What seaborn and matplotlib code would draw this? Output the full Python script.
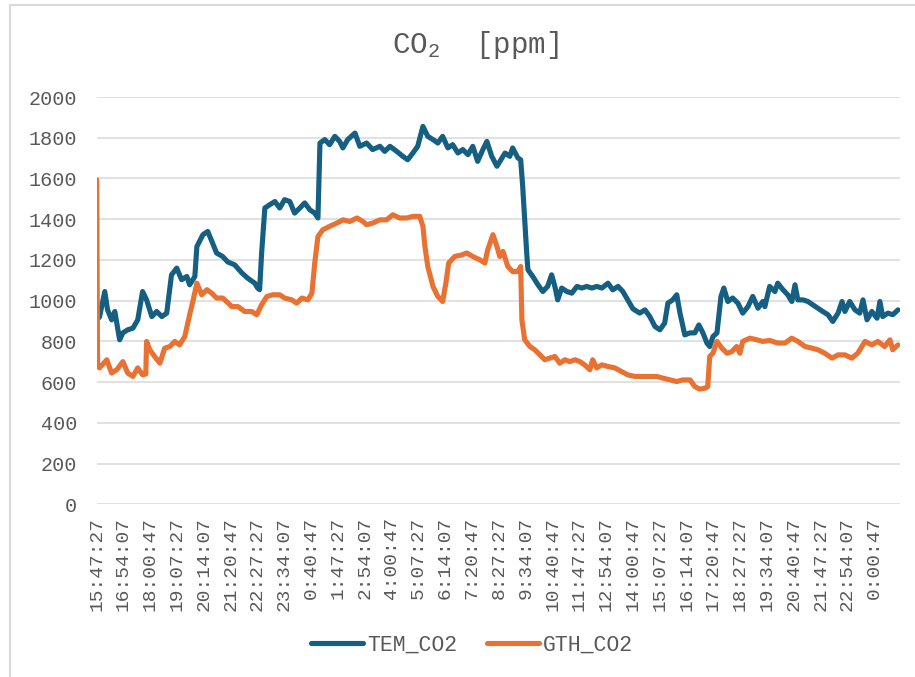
import pandas as pd
import seaborn as sns
import matplotlib.pyplot as plt
from matplotlib.lines import Line2D

# Time labels shown on the category axis (one every 4000 s)
time_labels = ['15:47:27', '16:54:07', '18:00:47', '19:07:27', '20:14:07', '21:20:47',
               '22:27:27', '23:34:07', '0:40:47', '1:47:27', '2:54:07', '4:00:47',
               '5:07:27', '6:14:07', '7:20:47', '8:27:27', '9:34:07', '10:40:47',
               '11:47:27', '12:54:07', '14:00:47', '15:07:27', '16:14:07', '17:20:47',
               '18:27:27', '19:34:07', '20:40:47', '21:47:27', '22:54:07', '0:00:47']

# TEM_CO2 readings (elapsed minutes since 15:47:27, ppm)
tem_min = [0, 7, 20, 27, 37, 45, 57, 65, 77, 90, 102, 114, 124, 137, 149, 162, 174, 186, 199, 211,
           224, 231, 244, 249, 264, 276, 288, 298, 313, 326, 343, 361, 375, 393, 400, 405, 410, 418, 430, 443,
           455, 467, 480, 492, 505, 517, 530, 542, 550, 555, 567, 579, 592, 604, 612, 624, 642, 654, 671, 686,
           704, 716, 729, 746, 761, 773, 786, 798, 811, 823, 836, 848, 860, 873, 885, 898, 910, 923, 935, 947,
           960, 970, 982, 995, 1015, 1027, 1034, 1047, 1054, 1059, 1064, 1069, 1072, 1084, 1097, 1109, 1121, 1131, 1139, 1146,
           1156, 1169, 1181, 1194, 1206, 1218, 1231, 1243, 1256, 1271, 1283, 1296, 1308, 1320, 1333, 1350, 1363, 1375, 1388, 1400,
           1412, 1420, 1432, 1442, 1450, 1462, 1475, 1487, 1497, 1507, 1517, 1524, 1532, 1542, 1552, 1559, 1569, 1581, 1594, 1606,
           1619, 1631, 1644, 1656, 1661, 1673, 1686, 1693, 1706, 1718, 1728, 1736, 1743, 1756, 1768, 1780, 1793, 1805, 1818, 1830,
           1843, 1853, 1860, 1872, 1885, 1897, 1905, 1915, 1927, 1940, 1947, 1954, 1967, 1979, 1992]
tem_ppm = [906, 920, 1045, 955, 906, 947, 808, 842, 857, 865, 906, 1045, 1004, 922, 947, 922, 939, 1127, 1160, 1103,
           1119, 1078, 1119, 1266, 1324, 1340, 1283, 1234, 1217, 1190, 1176, 1136, 1111, 1086, 1062, 1054, 1235, 1455, 1471, 1487,
           1455, 1496, 1487, 1430, 1455, 1480, 1446, 1430, 1406, 1774, 1791, 1766, 1807, 1782, 1750, 1791, 1823, 1758, 1774, 1742,
           1758, 1733, 1758, 1733, 1709, 1692, 1725, 1758, 1856, 1807, 1791, 1774, 1807, 1750, 1766, 1725, 1742, 1717, 1758, 1684,
           1742, 1782, 1709, 1660, 1725, 1709, 1750, 1701, 1692, 1561, 1397, 1234, 1152, 1119, 1078, 1045, 1070, 1127, 1070, 1004,
           1062, 1045, 1037, 1070, 1062, 1070, 1062, 1070, 1062, 1086, 1053, 1070, 1045, 1004, 960, 939, 955, 922, 873, 857,
           890, 988, 1004, 1029, 939, 832, 842, 842, 881, 842, 792, 775, 824, 842, 1021, 1062, 996, 1013, 988, 939,
           971, 1021, 963, 996, 971, 1070, 1045, 1086, 1054, 1029, 996, 1078, 1004, 1004, 996, 980, 963, 947, 931, 898,
           939, 996, 947, 996, 955, 939, 1004, 906, 947, 914, 996, 922, 939, 931, 955]

# GTH_CO2 readings (elapsed minutes since 15:47:27, ppm)
gth_min = [0, 2, 7, 25, 37, 50, 65, 77, 90, 102, 114, 122, 124, 132, 144, 157, 169, 182, 194, 206,
           219, 231, 239, 249, 261, 274, 286, 298, 313, 326, 336, 351, 368, 385, 398, 410, 423, 438, 455, 467,
           485, 497, 510, 525, 535, 542, 550, 562, 579, 597, 612, 629, 647, 661, 671, 686, 704, 721, 736, 753,
           771, 786, 803, 811, 816, 823, 836, 848, 860, 868, 875, 890, 908, 920, 935, 952, 965, 972, 985, 995,
           1002, 1010, 1022, 1034, 1047, 1054, 1057, 1064, 1077, 1089, 1102, 1114, 1126, 1139, 1151, 1164, 1176, 1189, 1201, 1213,
           1226, 1233, 1243, 1256, 1271, 1288, 1305, 1320, 1338, 1358, 1375, 1393, 1407, 1425, 1442, 1457, 1475, 1487, 1499, 1512,
           1519, 1524, 1532, 1542, 1554, 1567, 1579, 1591, 1599, 1606, 1624, 1641, 1656, 1673, 1693, 1711, 1728, 1743, 1761, 1778,
           1793, 1810, 1828, 1843, 1860, 1877, 1892, 1910, 1927, 1942, 1959, 1972, 1979, 1992]
gth_ppm = [1594, 690, 670, 710, 645, 661, 701, 645, 628, 670, 636, 640, 800, 759, 726, 693, 767, 775, 800, 783,
           824, 931, 996, 1086, 1029, 1054, 1037, 1013, 1013, 990, 971, 971, 947, 947, 931, 980, 1021, 1029, 1029, 1013,
           1004, 988, 1013, 1004, 1037, 1185, 1315, 1348, 1365, 1381, 1397, 1389, 1406, 1390, 1373, 1381, 1397, 1397, 1422, 1406,
           1406, 1414, 1414, 1365, 1266, 1168, 1070, 1021, 996, 1086, 1185, 1217, 1225, 1234, 1217, 1201, 1185, 1250, 1324, 1266,
           1217, 1242, 1168, 1143, 1143, 1168, 906, 808, 775, 759, 734, 710, 718, 726, 693, 710, 701, 710, 701, 685,
           661, 710, 670, 685, 677, 670, 652, 636, 628, 628, 628, 628, 620, 611, 603, 611, 611, 578, 566, 570,
           578, 726, 742, 800, 767, 742, 750, 775, 742, 800, 816, 808, 800, 805, 792, 792, 816, 800, 775, 767,
           759, 742, 718, 734, 734, 718, 742, 800, 783, 800, 775, 808, 759, 783]

series_names = ['TEM_CO2', 'GTH_CO2']
series_colors = ['#156082', '#E97132']
y_ticks = [0, 200, 400, 600, 800, 1000, 1200, 1400, 1600, 1800, 2000]

df = pd.concat([
    pd.DataFrame({'minutes': tem_min, 'ppm': tem_ppm, 'series': series_names[0]}),
    pd.DataFrame({'minutes': gth_min, 'ppm': gth_ppm, 'series': series_names[1]}),
])

sns.set_theme(style='white')
plt.rcParams['font.family'] = ['Liberation Mono', 'DejaVu Sans Mono']
plt.rcParams['mathtext.fontset'] = 'custom'
plt.rcParams['mathtext.rm'] = 'Liberation Mono'
plt.rcParams['mathtext.it'] = 'Liberation Mono'

text_color = '#595959'
grid_color = '#d9d9d9'

fig = plt.figure(figsize=(9.15, 6.77), dpi=100)
ax = fig.add_axes([0.1057, 0.255, 0.8779, 0.6017])

sns.lineplot(data=df, x='minutes', y='ppm', hue='series', hue_order=series_names,
             palette=series_colors, estimator=None, sort=False, linewidth=3.7,
             solid_joinstyle='round', solid_capstyle='round', ax=ax)

ax.set_ylim(0, 2000)
ax.set_xlim(0, 1997)
ax.set_yticks(y_ticks)
ax.set_yticklabels([str(v) for v in y_ticks])
ax.set_xticks([i * 4000 / 60 for i in range(len(time_labels))])
ax.set_xticklabels(time_labels, rotation=90)
ax.tick_params(axis='y', length=0, pad=14, labelsize=14.5, labelcolor=text_color)
ax.tick_params(axis='x', length=0, pad=9, labelsize=14, labelcolor=text_color)
ax.yaxis.grid(True, color=grid_color, linewidth=1.1)
ax.set_axisbelow(True)
for s in ax.spines.values():
    s.set_visible(False)
ax.set_xlabel('')
ax.set_ylabel('')

fig.text(0.52, 0.933, r'CO$_2$  [ppm]', ha='center', va='center',
         fontsize=21, color=text_color)

ax.get_legend().remove()
handles = [Line2D([0], [0], color=c, linewidth=3.7, solid_capstyle='round') for c in series_colors]
fig.legend(handles, series_names, loc='center', bbox_to_anchor=(0.516, 0.047), ncol=2,
           frameon=False, fontsize=15.5, labelcolor=text_color, handlelength=2.4,
           handletextpad=0.2, columnspacing=1.4)

# chart border (left and top visible in the source)
fig.add_artist(Line2D([10 / 915, 10 / 915], [0, 1 - 5 / 677], color=grid_color,
                      linewidth=1.5, transform=fig.transFigure))
fig.add_artist(Line2D([10 / 915, 1], [1 - 5 / 677, 1 - 5 / 677], color=grid_color,
                      linewidth=1.5, transform=fig.transFigure))

fig.savefig('out.png', dpi=100)
plt.close(fig)
